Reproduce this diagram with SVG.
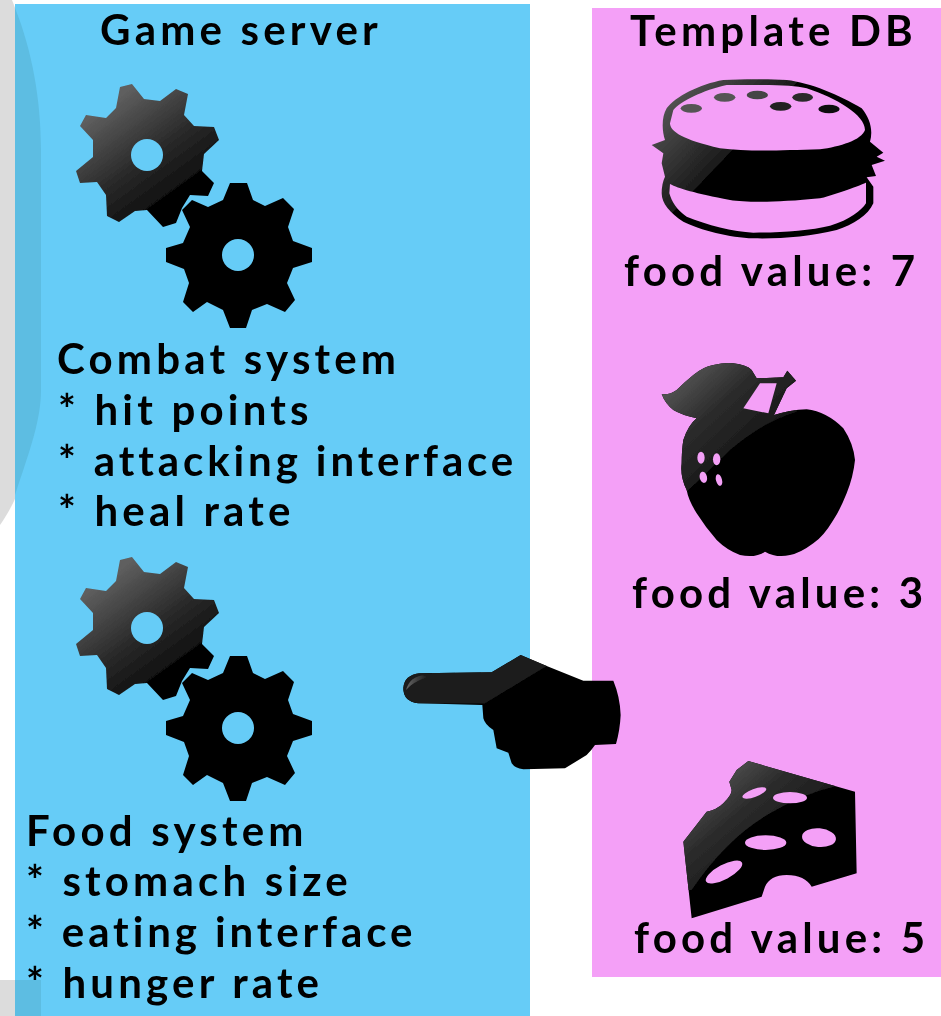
<svg xmlns="http://www.w3.org/2000/svg" width="941" height="1016" viewBox="0 0 941 1016">
<style>
text{font-family:Lato,"Open Sans","Liberation Sans",sans-serif;font-size:42px;font-weight:700;fill:#000;letter-spacing:4.2px;font-variant-ligatures:common-ligatures;filter:url(#soft)}
.tight{letter-spacing:3.9px}
.hole{fill:#66ccf7}
.pk{fill:#f4a0f7}
.bk{fill:#000}
.icon{filter:url(#soft)}
</style>
<defs>
<filter id="soft" x="-5%" y="-20%" width="110%" height="140%"><feGaussianBlur stdDeviation="0.6"/></filter>
<linearGradient id="gearGloss" gradientUnits="userSpaceOnUse" x1="115" y1="100" x2="178" y2="187.5">
<stop offset="0" stop-color="#5e5e5e"/><stop offset=".6" stop-color="#2a2a2a"/><stop offset=".99" stop-color="#111"/><stop offset="1" stop-color="#000"/>
</linearGradient>
<linearGradient id="burgerGloss" gradientUnits="userSpaceOnUse" x1="130" y1="130" x2="309" y2="301">
<stop offset="0" stop-color="#555"/><stop offset=".99" stop-color="#1a1a1a"/><stop offset="1" stop-color="#000"/>
</linearGradient>
<linearGradient id="gloss" x1="0" y1="0" x2=".8" y2=".8">
<stop offset="0" stop-color="#707070"/><stop offset=".5" stop-color="#2c2c2c"/><stop offset="1" stop-color="#0e0e0e"/>
</linearGradient>
<linearGradient id="tip" x1="0" y1="0" x2="1" y2="0">
<stop offset="0" stop-color="#666"/><stop offset="1" stop-color="#1c1c1c"/>
</linearGradient>
<polygon id="gearA" points="120,87 132,84 144,99 160,101 176,89 188,94 184,115 194,126 214,127 219,140 204,154 202,171 214,183 208,196 190,195 182,208 176,223 163,227 147,210 135,211 119,222 107,216 106,195 97,182 80,183 76,171 93,157 93,140 80,126 86,115 106,118 116,108" fill="url(#gearGloss)"/>
<polygon id="gearB" points="230,183 247,183 253,200 265,206 283,198 294,209 288,227 293,241 312,248 312,262 293,268 287,283 295,300 285,312 267,304 252,310 246,328 230,328 223,310 207,302 193,312 183,302 189,283 184,269 166,262 166,248 183,243 190,227 182,210 192,200 208,207 223,200" fill="#000"/>
<g id="gearPair" class="icon">
<use href="#gearA"/><circle class="hole" cx="147" cy="155" r="16"/>
<use href="#gearB"/><circle class="hole" cx="238" cy="255" r="16"/>
</g>
<path id="appleShape" d="M65,132Q90,135 110,120Q135,95 160,75Q190,50 220,45Q255,37 280,40Q320,45 335,60L350,85L430,82L442,62L468,92L440,115L402,195Q450,180 500,178Q560,185 610,235Q640,280 645,330Q640,380 620,430Q600,480 580,510Q550,560 520,580Q480,610 450,615Q410,625 375,605Q345,625 300,615Q260,600 230,570Q195,530 170,490Q145,450 140,420Q120,380 125,340Q125,300 130,270Q145,225 170,205Q125,195 100,180Q75,160 65,132Z"/>
<path id="cheeseShape" d="M235,33L555,125L560,370L425,410Q405,376 350,375Q300,376 285,410L275,440L65,505L40,275L110,185Q140,180 160,160Q185,135 185,120L178,95L200,60Z"/>
<clipPath id="appleClip"><use href="#appleShape"/></clipPath>
<clipPath id="cheeseClip"><use href="#cheeseShape"/></clipPath>
</defs>

<rect width="941" height="1016" fill="#fff"/>
<path id="backdrop" d="M0,0H12C30,45 41,100 41,150V390C41,430 25,490 0,525Z" fill="#dcdcdc"/>
<rect x="0" y="980" width="41" height="36" fill="#dcdcdc"/>

<g id="game-server">
<rect x="15" y="4" width="515" height="1012" fill="#66ccf7"/>
<path d="M15,8C32,50 41,100 41,150V390C41,420 30,450 15,495Z" fill="#5dbde2"/>
<rect x="15" y="980" width="26" height="36" fill="#5dbde2"/>
<text x="100" y="44.5">Game server</text>
</g>

<g id="template-db">
<rect x="592" y="8" width="349" height="969" fill="#f4a0f7"/>
<text x="630" y="45.5">Template DB</text>
</g>

<g id="combat-system">
<use href="#gearPair"/>
<text x="57" y="373.5">Combat system</text>
<text x="58" y="424.5">* hit points</text>
<text x="58" y="475.5" class="tight">* attacking interface</text>
<text x="58" y="525.5">* heal rate</text>
</g>

<g id="food-system">
<use href="#gearPair" y="473"/>
<text x="26" y="845.5">Food system</text>
<text x="26" y="895.5">* stomach size</text>
<text x="26" y="946.5" class="tight">* eating interface</text>
<text x="26" y="997.5">* hunger rate</text>
</g>

<g id="burger">
<g class="icon" transform="translate(620 60) scale(.33333)">
<path d="M95,255L135,240C125,210 125,170 140,145C165,110 240,72 310,60C370,57 440,57 500,60C570,68 660,105 725,145C750,175 760,210 750,245L790,278L770,290L795,302L755,315L768,348L740,352L760,380V430C745,465 700,495 650,510C570,530 480,537 400,535C330,533 240,510 190,485C150,460 125,430 125,400Q125,370 135,350L125,310L130,280Z" fill="url(#burgerGloss)"/>
<path class="pk" d="M150,190C150,215 190,240 300,265C380,275 470,272 600,268C660,260 725,240 735,210C735,165 650,115 560,85C530,78 490,75 420,75H320C250,90 180,125 160,150Z"/>
<path class="pk" d="M150,372C175,385 225,400 330,420C380,428 470,428 600,415C660,400 738,368 738,368V430C725,450 690,480 630,497C570,512 480,518 400,518C340,515 260,495 200,470C170,450 155,425 148,400Z"/>
<ellipse cx="214" cy="145" rx="32" ry="13" fill="#555"/>
<ellipse cx="314" cy="112" rx="32" ry="13" fill="#555"/>
<ellipse cx="412" cy="105" rx="32" ry="13" fill="#444"/>
<ellipse cx="482" cy="139" rx="32" ry="13" fill="#222"/>
<ellipse cx="548" cy="112" rx="31" ry="13" fill="#2a2a2a"/>
<ellipse cx="627" cy="147" rx="32" ry="13" fill="#111"/>
</g>
<text x="624" y="285.5">food value: 7</text>
</g>

<g id="apple">
<g class="icon" transform="translate(640 350) scale(.33333)">
<use href="#appleShape" class="bk"/>
<path d="M40,20H480V60L470,185Q370,215 270,300L140,425H40Z" fill="url(#gloss)" clip-path="url(#appleClip)"/>
<polygon class="pk" points="360,100 410,100 385,190 310,175 340,130"/>
<ellipse class="pk" cx="183" cy="323" rx="11" ry="18"/>
<ellipse class="pk" cx="230" cy="328" rx="11" ry="18"/>
<ellipse class="pk" cx="190" cy="382" rx="11" ry="17" transform="rotate(-12 190 382)"/>
<ellipse class="pk" cx="237" cy="390" rx="9" ry="18" transform="rotate(-15 237 390)"/>
</g>
<text x="632" y="607.5">food value: 3</text>
</g>

<g id="cheese">
<g class="icon" transform="translate(670 750) scale(.33333)">
<use href="#cheeseShape" class="bk"/>
<path d="M20,20H500V108Q400,130 300,190Q170,265 65,420H20Z" fill="url(#gloss)" clip-path="url(#cheeseClip)"/>
<ellipse class="pk" cx="253" cy="129" rx="38" ry="12" transform="rotate(-20 253 129)"/>
<ellipse class="pk" cx="360" cy="143" rx="51" ry="17"/>
<ellipse class="pk" cx="287" cy="278" rx="62" ry="22"/>
<ellipse class="pk" cx="447" cy="263" rx="51" ry="28" transform="rotate(5 447 263)"/>
<ellipse class="pk" cx="162" cy="366" rx="61" ry="22" transform="rotate(-28 162 366)"/>
</g>
<text x="634" y="952.5">food value: 5</text>
</g>

<g id="connectors">
<g id="pointing-hand" class="icon" transform="translate(390 640) scale(.33333)">
<path class="bk" d="M90,100L305,97L392,45L470,78L580,122H670Q690,170 692,225Q690,270 678,312L615,315Q605,330 590,345L525,385L400,388Q375,385 365,370L355,338L320,325L310,270Q285,255 280,235L277,195L85,190Q40,185 40,145Q42,105 90,100Z"/>
<path d="M90,100L305,97L392,45L470,78L285,190L85,190Q40,185 40,145Q42,105 90,100Z" fill="#1c1c1c"/>
<path d="M100,106Q60,110 48,150Q70,125 112,112Z" fill="url(#tip)"/>
</g>
</g>
</svg>
